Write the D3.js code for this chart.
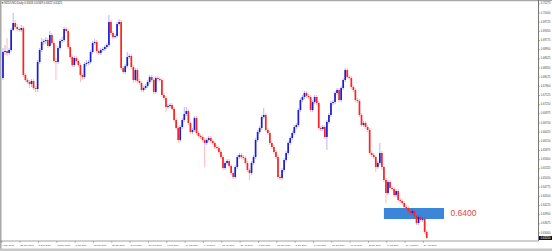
<!DOCTYPE html>
<html>
<head>
<meta charset="utf-8">
<script src="https://cdn.jsdelivr.net/npm/d3@7"></script>
<style>
  html, body { margin: 0; padding: 0; background: #fff; overflow: hidden; }
  svg { display: block; font-family: Arial, "Liberation Sans", sans-serif; }
</style>
</head>
<body>
<div id="chart"></div>
<script>
// NZDUSD daily candles
const symbolTitle = 'NZDUSD,Daily  0.6343 0.6349 0.6322 0.6325';

const opens = [
  0.6805,0.6883,0.6886,0.6880,0.6889,0.6949,0.6970,0.6958,0.6952,0.6949,
  0.6955,0.6814,0.6799,0.6793,0.6787,0.6796,0.6775,0.6772,0.6853,0.6889,
  0.6913,0.6916,0.6919,0.6901,0.6934,0.6910,0.6856,0.6853,0.6895,0.6916,
  0.6919,0.6952,0.6946,0.6898,0.6868,0.6844,0.6865,0.6856,0.6844,0.6814,
  0.6808,0.6847,0.6850,0.6853,0.6883,0.6910,0.6913,0.6886,0.6880,0.6889,
  0.6892,0.6898,0.6904,0.6973,0.6940,0.6928,0.6931,0.6967,0.6973,0.6835,
  0.6823,0.6841,0.6868,0.6871,0.6838,0.6799,0.6829,0.6796,0.6790,0.6769,
  0.6775,0.6781,0.6793,0.6808,0.6799,0.6763,0.6805,0.6802,0.6799,0.6754,
  0.6745,0.6718,0.6721,0.6724,0.6712,0.6679,0.6655,0.6619,0.6658,0.6679,
  0.6697,0.6706,0.6670,0.6643,0.6649,0.6685,0.6640,0.6631,0.6628,0.6619,
  0.6610,0.6619,0.6625,0.6616,0.6610,0.6598,0.6595,0.6583,0.6568,0.6535,
  0.6550,0.6556,0.6541,0.6520,0.6508,0.6538,0.6568,0.6574,0.6568,0.6565,
  0.6550,0.6529,0.6520,0.6550,0.6568,0.6619,0.6643,0.6655,0.6688,0.6694,
  0.6649,0.6640,0.6610,0.6598,0.6583,0.6568,0.6508,0.6505,0.6529,0.6559,
  0.6580,0.6610,0.6625,0.6640,0.6658,0.6664,0.6709,0.6739,0.6748,0.6760,
  0.6751,0.6748,0.6709,0.6733,0.6748,0.6730,0.6655,0.6652,0.6658,0.6628,
  0.6673,0.6694,0.6730,0.6733,0.6760,0.6769,0.6739,0.6775,0.6799,0.6829,
  0.6808,0.6805,0.6778,0.6769,0.6739,0.6736,0.6694,0.6664,0.6670,0.6658,
  0.6649,0.6580,0.6574,0.6568,0.6538,0.6550,0.6580,0.6538,0.6499,0.6460,
  0.6493,0.6475,0.6472,0.6454,0.6466,0.6439,0.6436,0.6430,0.6418,0.6415,
  0.6406,0.6400,0.6406,0.6391,0.6370,0.6388,0.6379,0.6382,0.6343
];

const highs = [
  0.6895,0.6904,0.6925,0.6895,0.6955,0.7000,0.6979,0.6967,0.6958,0.6964,
  0.6961,0.6820,0.6805,0.6799,0.6802,0.6802,0.6781,0.6859,0.6895,0.6925,
  0.6922,0.6928,0.6925,0.6946,0.6940,0.6913,0.6865,0.6901,0.6922,0.6928,
  0.6958,0.6958,0.6952,0.6904,0.6874,0.6871,0.6871,0.6862,0.6850,0.6820,
  0.6853,0.6859,0.6859,0.6889,0.6916,0.6922,0.6919,0.6892,0.6895,0.6898,
  0.6904,0.6910,0.6994,0.6979,0.6946,0.6937,0.6973,0.6982,0.6979,0.6841,
  0.6847,0.6883,0.6877,0.6877,0.6844,0.6835,0.6835,0.6802,0.6796,0.6781,
  0.6787,0.6799,0.6814,0.6814,0.6805,0.6811,0.6811,0.6808,0.6805,0.6760,
  0.6751,0.6727,0.6730,0.6730,0.6718,0.6685,0.6661,0.6664,0.6685,0.6718,
  0.6718,0.6712,0.6676,0.6655,0.6691,0.6691,0.6646,0.6637,0.6634,0.6625,
  0.6625,0.6631,0.6631,0.6622,0.6616,0.6604,0.6601,0.6589,0.6574,0.6556,
  0.6562,0.6562,0.6547,0.6526,0.6544,0.6574,0.6580,0.6580,0.6574,0.6571,
  0.6556,0.6535,0.6556,0.6574,0.6625,0.6649,0.6661,0.6694,0.6715,0.6700,
  0.6655,0.6646,0.6616,0.6604,0.6589,0.6574,0.6514,0.6535,0.6565,0.6586,
  0.6616,0.6631,0.6646,0.6664,0.6670,0.6715,0.6745,0.6754,0.6766,0.6766,
  0.6757,0.6754,0.6739,0.6754,0.6754,0.6736,0.6661,0.6664,0.6664,0.6679,
  0.6700,0.6736,0.6739,0.6766,0.6775,0.6775,0.6781,0.6805,0.6835,0.6835,
  0.6814,0.6811,0.6784,0.6775,0.6745,0.6742,0.6700,0.6676,0.6676,0.6664,
  0.6655,0.6586,0.6580,0.6574,0.6556,0.6610,0.6586,0.6541,0.6505,0.6499,
  0.6499,0.6481,0.6478,0.6472,0.6472,0.6445,0.6442,0.6436,0.6424,0.6421,
  0.6412,0.6412,0.6412,0.6397,0.6394,0.6394,0.6388,0.6388,0.6349
];

const lows = [
  0.6799,0.6874,0.6871,0.6874,0.6883,0.6946,0.6952,0.6946,0.6943,0.6943,
  0.6808,0.6793,0.6787,0.6775,0.6778,0.6769,0.6763,0.6763,0.6847,0.6883,
  0.6904,0.6907,0.6895,0.6898,0.6904,0.6850,0.6799,0.6847,0.6889,0.6910,
  0.6913,0.6940,0.6892,0.6862,0.6838,0.6838,0.6850,0.6838,0.6793,0.6799,
  0.6802,0.6841,0.6844,0.6847,0.6877,0.6904,0.6880,0.6874,0.6874,0.6883,
  0.6886,0.6892,0.6898,0.6934,0.6922,0.6922,0.6925,0.6961,0.6829,0.6817,
  0.6817,0.6835,0.6862,0.6832,0.6790,0.6793,0.6790,0.6784,0.6763,0.6763,
  0.6769,0.6775,0.6787,0.6793,0.6757,0.6757,0.6796,0.6793,0.6748,0.6739,
  0.6703,0.6712,0.6715,0.6706,0.6673,0.6649,0.6610,0.6613,0.6652,0.6673,
  0.6691,0.6664,0.6637,0.6637,0.6643,0.6634,0.6625,0.6622,0.6613,0.6538,
  0.6604,0.6613,0.6610,0.6604,0.6592,0.6589,0.6577,0.6562,0.6529,0.6529,
  0.6544,0.6535,0.6514,0.6502,0.6502,0.6532,0.6562,0.6562,0.6559,0.6544,
  0.6523,0.6499,0.6514,0.6544,0.6562,0.6613,0.6637,0.6649,0.6682,0.6643,
  0.6634,0.6604,0.6592,0.6577,0.6562,0.6502,0.6499,0.6499,0.6523,0.6553,
  0.6574,0.6604,0.6619,0.6634,0.6652,0.6658,0.6703,0.6733,0.6742,0.6745,
  0.6742,0.6703,0.6703,0.6727,0.6724,0.6649,0.6646,0.6646,0.6622,0.6589,
  0.6667,0.6688,0.6724,0.6727,0.6754,0.6733,0.6733,0.6769,0.6793,0.6802,
  0.6799,0.6772,0.6763,0.6733,0.6730,0.6688,0.6658,0.6658,0.6652,0.6643,
  0.6574,0.6568,0.6562,0.6523,0.6532,0.6544,0.6529,0.6493,0.6430,0.6454,
  0.6469,0.6466,0.6448,0.6448,0.6433,0.6430,0.6424,0.6412,0.6409,0.6400,
  0.6394,0.6394,0.6385,0.6364,0.6364,0.6373,0.6373,0.6337,0.6322
];

const closes = [
  0.6883,0.6886,0.6880,0.6889,0.6949,0.6970,0.6958,0.6952,0.6949,0.6955,
  0.6814,0.6799,0.6793,0.6787,0.6796,0.6775,0.6772,0.6853,0.6889,0.6913,
  0.6916,0.6919,0.6901,0.6934,0.6910,0.6856,0.6853,0.6895,0.6916,0.6919,
  0.6952,0.6946,0.6898,0.6868,0.6844,0.6865,0.6856,0.6844,0.6814,0.6808,
  0.6847,0.6850,0.6853,0.6883,0.6910,0.6913,0.6886,0.6880,0.6889,0.6892,
  0.6898,0.6904,0.6973,0.6940,0.6928,0.6931,0.6967,0.6973,0.6835,0.6823,
  0.6841,0.6868,0.6871,0.6838,0.6799,0.6829,0.6796,0.6790,0.6769,0.6775,
  0.6781,0.6793,0.6808,0.6799,0.6763,0.6805,0.6802,0.6799,0.6754,0.6745,
  0.6718,0.6721,0.6724,0.6712,0.6679,0.6655,0.6619,0.6658,0.6679,0.6697,
  0.6706,0.6670,0.6643,0.6649,0.6685,0.6640,0.6631,0.6628,0.6619,0.6610,
  0.6619,0.6625,0.6616,0.6610,0.6598,0.6595,0.6583,0.6568,0.6535,0.6550,
  0.6556,0.6541,0.6520,0.6508,0.6538,0.6568,0.6574,0.6568,0.6565,0.6550,
  0.6529,0.6520,0.6550,0.6568,0.6619,0.6643,0.6655,0.6688,0.6694,0.6649,
  0.6640,0.6610,0.6598,0.6583,0.6568,0.6508,0.6505,0.6529,0.6559,0.6580,
  0.6610,0.6625,0.6640,0.6658,0.6664,0.6709,0.6739,0.6748,0.6760,0.6751,
  0.6748,0.6709,0.6733,0.6748,0.6730,0.6655,0.6652,0.6658,0.6628,0.6673,
  0.6694,0.6730,0.6733,0.6760,0.6769,0.6739,0.6775,0.6799,0.6829,0.6808,
  0.6805,0.6778,0.6769,0.6739,0.6736,0.6694,0.6664,0.6670,0.6658,0.6649,
  0.6580,0.6574,0.6568,0.6538,0.6550,0.6580,0.6538,0.6499,0.6460,0.6493,
  0.6475,0.6472,0.6454,0.6466,0.6439,0.6436,0.6430,0.6418,0.6415,0.6406,
  0.6400,0.6406,0.6391,0.6370,0.6388,0.6379,0.6382,0.6343,0.6325
];

// bottom time axis: one label every 9 bars
const dateLabels = [
  '9 Nov 2018', '22 Nov 2018', '5 Dec 2018', '18 Dec 2018', '2 Jan 2019', '15 Jan 2019',
  '28 Jan 2019', '8 Feb 2019', '21 Feb 2019', '6 Mar 2019', '19 Mar 2019', '1 Apr 2019',
  '12 Apr 2019', '25 Apr 2019', '8 May 2019', '21 May 2019', '3 Jun 2019', '14 Jun 2019',
  '27 Jun 2019', '10 Jul 2019', '23 Jul 2019', '5 Aug 2019', '16 Aug 2019', '29 Aug 2019'
];
const barsPerLabel = 9;

// right price scale labels
const priceTicks = [
  0.63400, 0.63675, 0.63950, 0.64225, 0.64500, 0.64775, 0.65050, 0.65325, 0.65600,
  0.65875, 0.66150, 0.66425, 0.66700, 0.66975, 0.67250, 0.67525, 0.67800, 0.68075,
  0.68350, 0.68625, 0.68900, 0.69175, 0.69450, 0.69725, 0.70000, 0.70275
];

// support zone drawn on the chart (bar index range, price range)
const zoneBars = [187, 216.5];
const zonePrices = [0.6382, 0.6415];
const zoneLevel = 0.6400;
const zoneText = '0.6400';

const width = 552, height = 251;
const plotLeft = 2, plotRight = 538.5, plotTop = 2, plotBottom = 241;
const upColor = '#1c1cd4', downColor = '#fa2424';

const bars = closes.map((c, i) => ({ i, o: opens[i], h: highs[i], l: lows[i], c }));

const x = d3.scaleLinear().domain([0, bars.length - 1]).range([3, 426.7]);
const y = d3.scaleLinear().domain([0.6316, 0.7033]).range([plotBottom, plotTop]);

const svg = d3.select('#chart').append('svg')
  .attr('width', width)
  .attr('height', height);

svg.append('rect').attr('width', width).attr('height', height).attr('fill', '#fff');

// window frame
svg.append('rect').attr('x', 0).attr('y', 0).attr('width', width).attr('height', 1.2).attr('fill', '#a8a8a8');
svg.append('rect').attr('x', 0).attr('y', 0).attr('width', 1.5).attr('height', height).attr('fill', '#a8a8a8');
svg.append('rect').attr('x', 0).attr('y', 248.5).attr('width', width).attr('height', 2.5).attr('fill', '#c8c8c8');

// zone rectangle (behind candles)
svg.append('rect')
  .attr('x', x(zoneBars[0]))
  .attr('y', y(zonePrices[1]))
  .attr('width', x(zoneBars[1]) - x(zoneBars[0]))
  .attr('height', y(zonePrices[0]) - y(zonePrices[1]))
  .attr('fill', '#3b86d9');

svg.append('text')
  .attr('x', x(zoneBars[1]) + 6.5)
  .attr('y', y(zoneLevel))
  .attr('dominant-baseline', 'central')
  .style('font-size', '8.5px')
  .style('fill', '#e8453c')
  .text(zoneText);

// candles
const g = svg.append('g');

g.selectAll('.wick')
  .data(bars)
  .enter()
  .append('line')
  .attr('class', 'wick')
  .attr('x1', (d) => x(d.i))
  .attr('x2', (d) => x(d.i))
  .attr('y1', (d) => y(d.h))
  .attr('y2', (d) => y(d.l))
  .attr('stroke', (d) => (d.c >= d.o ? upColor : downColor))
  .attr('stroke-opacity', 0.45)
  .attr('stroke-width', 0.7);

g.selectAll('.body')
  .data(bars)
  .enter()
  .append('rect')
  .attr('class', 'body')
  .attr('x', (d) => x(d.i) - 0.85)
  .attr('width', 1.7)
  .attr('y', (d) => y(Math.max(d.o, d.c)))
  .attr('height', (d) => Math.max(0.8, Math.abs(y(d.o) - y(d.c))))
  .attr('fill', (d) => (d.c >= d.o ? upColor : downColor));

// right price axis
svg.append('line')
  .attr('x1', plotRight).attr('x2', plotRight)
  .attr('y1', 0).attr('y2', plotBottom)
  .attr('stroke', '#555').attr('stroke-width', 0.8);

const pAxis = svg.append('g').attr('class', 'price-axis');
pAxis.selectAll('line')
  .data(priceTicks)
  .enter()
  .append('line')
  .attr('x1', plotRight).attr('x2', plotRight + 1.5)
  .attr('y1', (d) => y(d)).attr('y2', (d) => y(d))
  .attr('stroke', '#666').attr('stroke-width', 0.5);
pAxis.selectAll('text')
  .data(priceTicks)
  .enter()
  .append('text')
  .attr('x', plotRight + 2.3)
  .attr('y', (d) => y(d))
  .attr('dominant-baseline', 'central')
  .style('font-size', '2.7px')
  .style('fill', '#444')
  .text((d) => d.toFixed(5));

// current price box
const last = bars[bars.length - 1];
svg.append('rect')
  .attr('x', plotRight + 0.5)
  .attr('y', y(last.c) - 2)
  .attr('width', width - plotRight)
  .attr('height', 4)
  .attr('fill', '#111');
svg.append('text')
  .attr('x', plotRight + 2.3)
  .attr('y', y(last.c))
  .attr('dominant-baseline', 'central')
  .style('font-size', '2.7px')
  .style('fill', '#fff')
  .text(last.c.toFixed(5));

// bottom time axis
svg.append('line')
  .attr('x1', 0).attr('x2', plotRight)
  .attr('y1', plotBottom).attr('y2', plotBottom)
  .attr('stroke', '#888').attr('stroke-width', 0.8);

const tAxis = svg.append('g').attr('class', 'time-axis');
tAxis.selectAll('line')
  .data(dateLabels)
  .enter()
  .append('line')
  .attr('x1', (d, k) => x(k * barsPerLabel) - 1.2)
  .attr('x2', (d, k) => x(k * barsPerLabel) - 1.2)
  .attr('y1', plotBottom).attr('y2', plotBottom + 1.8)
  .attr('stroke', '#666').attr('stroke-width', 0.5);
tAxis.selectAll('text')
  .data(dateLabels)
  .enter()
  .append('text')
  .attr('x', (d, k) => x(k * barsPerLabel) - 0.8)
  .attr('y', 245.8)
  .style('font-size', '2.3px')
  .style('fill', '#444')
  .text((d) => d);

// title
svg.append('rect').attr('x', 1.8).attr('y', 2).attr('width', 1.6).attr('height', 1.6).attr('fill', '#777');
svg.append('text')
  .attr('x', 4.2)
  .attr('y', 4.2)
  .style('font-size', '2.9px')
  .style('fill', '#333')
  .text(symbolTitle);
</script>
</body>
</html>
